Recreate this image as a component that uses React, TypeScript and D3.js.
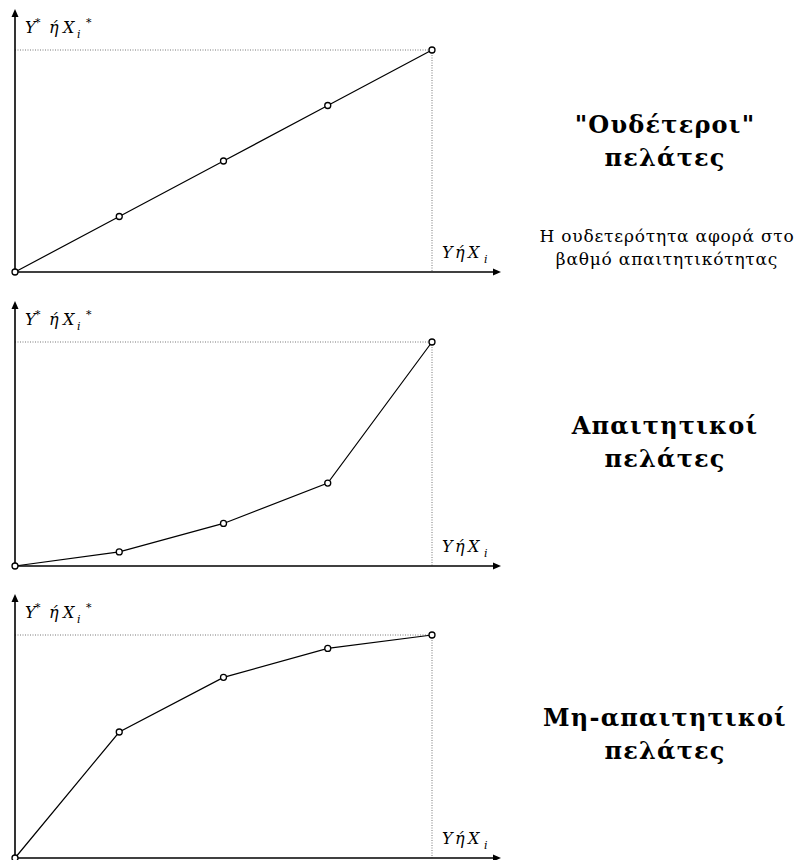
import React from "react";
import * as d3 from "d3";

// Position along the horizontal axis (Y or X_i), five equal steps
const xSteps = [0, 1, 2, 3, 4];
// Perceived value (Y* or X_i*), normalised to the top reference line
const neutralValues = [0, 0.25, 0.5, 0.75, 1];
const demandingValues = [0, 0.063, 0.19, 0.37, 1];
const nonDemandingValues = [0, 0.565, 0.81, 0.94, 1];

const panelTitles = [
  ['"Ουδέτεροι"', "πελάτες"],
  ["Απαιτητικοί", "πελάτες"],
  ["Μη-απαιτητικοί", "πελάτες"],
];
const neutralNote = ["Η ουδετερότητα αφορά στο", "βαθμό απαιτητικότητας"];

const W = 798;
const H = 860;
const SERIF = "'DejaVu Serif', 'Liberation Serif', serif";

const panels = [
  { values: neutralValues, base: 272, top: 50, titleY: [133, 166] },
  { values: demandingValues, base: 566, top: 342, titleY: [434, 467] },
  { values: nonDemandingValues, base: 858, top: 635, titleY: [726, 759] },
];

const x = d3.scaleLinear().domain([0, 4]).range([15, 432]);
const axisLeft = 15;
const axisRight = 501;

function Panel({ p, titles, idx }: { p: (typeof panels)[number]; titles: string[]; idx: number }) {
  const y = d3.scaleLinear().domain([0, 1]).range([p.base, p.top]);
  const line = d3
    .line<number>()
    .x((_, i) => x(xSteps[i]))
    .y((v) => y(v));
  const arrowTop = p.top - 41;
  const xEnd = x(xSteps[xSteps.length - 1]);
  const serif = { fontFamily: SERIF };
  const ly = p.top - 17; // baseline of the vertical-axis label
  const bx = 441; // start of the horizontal-axis label
  const by = p.base - 14;
  return (
    <g>
      {/* dotted guides to the last point */}
      <line x1={axisLeft} x2={xEnd} y1={y(1)} y2={y(1)} stroke="#777" strokeWidth={1} strokeDasharray="1,1.5" />
      <line x1={xEnd} x2={xEnd} y1={y(1)} y2={p.base} stroke="#777" strokeWidth={1} strokeDasharray="1,1.5" />
      {/* axes */}
      <line x1={axisLeft} x2={axisLeft} y1={p.base} y2={arrowTop + 6} stroke="#000" strokeWidth={1.6} />
      <path d={`M${axisLeft},${arrowTop} L${axisLeft - 3.5},${arrowTop + 8} L${axisLeft + 3.5},${arrowTop + 8} Z`} fill="#000" />
      <line x1={axisLeft} x2={axisRight - 6} y1={p.base} y2={p.base} stroke="#000" strokeWidth={1.6} />
      <path d={`M${axisRight},${p.base} L${axisRight - 8},${p.base - 3.5} L${axisRight - 8},${p.base + 3.5} Z`} fill="#000" />
      {/* curve */}
      <path d={line(p.values) || ""} fill="none" stroke="#000" strokeWidth={1.2} />
      {p.values.map((v, i) => (
        <circle key={i} cx={x(xSteps[i])} cy={y(v)} r={3} fill="#fff" stroke="#000" strokeWidth={1.3} />
      ))}
      {/* axis labels */}
      <text style={{ ...serif, fontSize: 16, fontStyle: "italic" }}>
        <tspan x={25} y={ly}>Y</tspan>
        <tspan x={35} y={ly - 7} style={{ fontSize: 11 }}>*</tspan>
        <tspan x={49} y={ly}>ή</tspan>
        <tspan x={63} y={ly}>X</tspan>
        <tspan x={77} y={ly + 5} style={{ fontSize: 11 }}>i</tspan>
        <tspan x={86} y={ly - 7} style={{ fontSize: 11 }}>*</tspan>
      </text>
      <text style={{ ...serif, fontSize: 16, fontStyle: "italic" }}>
        <tspan x={bx + 1} y={by}>Y</tspan>
        <tspan x={bx + 14} y={by}>ή</tspan>
        <tspan x={bx + 27} y={by}>X</tspan>
        <tspan x={bx + 43} y={by + 5} style={{ fontSize: 11 }}>i</tspan>
      </text>
      {/* panel title */}
      {titles.map((t, i) => (
        <text
          key={i}
          x={665}
          y={p.titleY[i]}
          textAnchor="middle"
          style={serif}
          fontWeight="bold"
          fontSize={24}
          letterSpacing={1.2}
        >
          {t}
        </text>
      ))}
      {idx === 0 &&
        neutralNote.map((t, i) => (
          <text
            key={i}
            x={667}
            y={242 + i * 23}
            textAnchor="middle"
            style={serif}
            fontSize={17}
            letterSpacing={0.8}
          >
            {t}
          </text>
        ))}
    </g>
  );
}

export default function App() {
  return (
    <svg
      width={W}
      height={H}
      viewBox={`0 0 ${W} ${H}`}
      style={{ position: "absolute", left: 0, top: 0, background: "#fff" }}
    >
      <rect width={W} height={H} fill="#fff" />
      {panels.map((p, i) => (
        <Panel key={i} p={p} titles={panelTitles[i]} idx={i} />
      ))}
    </svg>
  );
}
